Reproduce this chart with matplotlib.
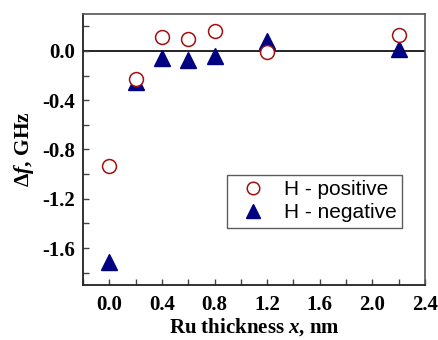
import matplotlib
matplotlib.use("Agg")
import matplotlib.pyplot as plt
from matplotlib.ticker import MultipleLocator

plt.rcParams['axes.unicode_minus'] = False
plt.rcParams['mathtext.fontset'] = 'custom'
plt.rcParams['mathtext.rm'] = 'Liberation Serif:bold'
plt.rcParams['mathtext.it'] = 'Liberation Serif:italic:bold'
plt.rcParams['mathtext.bf'] = 'Liberation Serif:bold'

thickness = [0.0, 0.2, 0.4, 0.6, 0.8, 1.2, 2.2]                  # Ru thickness, nm
df_pos = [-0.93, -0.23, 0.115, 0.10, 0.16, -0.01, 0.127]         # H - positive, GHz
df_neg = [-1.715, -0.25, -0.055, -0.07, -0.04, 0.08, 0.014]      # H - negative, GHz

fig = plt.figure(figsize=(4.38, 3.40), dpi=100)
ax = fig.add_axes([83/438, 1 - 285/340, (425-83)/438, (285-14)/340])

ax.axhline(0, color='black', lw=1.2, zorder=1)
ax.plot(thickness, df_pos, 'o', ms=10, mfc='white', mec='#a01010', mew=1.1,
        label='H - positive', zorder=3)
ax.plot(thickness, df_neg, '^', ms=11.5, color='#000080', mec='#000080',
        label='H - negative', zorder=2)

ax.set_xlim(-0.2, 2.4)
ax.set_ylim(-1.9, 0.3)
ax.xaxis.set_major_locator(MultipleLocator(0.4))
ax.xaxis.set_minor_locator(MultipleLocator(0.2))
ax.yaxis.set_major_locator(MultipleLocator(0.4))
ax.yaxis.set_minor_locator(MultipleLocator(0.2))
ax.tick_params(which='both', direction='in', top=False, right=False,
               length=4, width=1, color='#444444')
for lab in ax.get_xticklabels() + ax.get_yticklabels():
    lab.set_fontfamily('Liberation Serif')
    lab.set_fontweight('bold')
    lab.set_fontsize(15)
ax.tick_params(axis='x', pad=7)
ax.tick_params(axis='y', pad=6)

for side in ['left', 'bottom']:
    ax.spines[side].set_color('#222222')
    ax.spines[side].set_linewidth(1.3)
for side in ['top', 'right']:
    ax.spines[side].set_color('#555555')
    ax.spines[side].set_linewidth(1.2)

ax.set_xlabel(r'Ru thickness $x$, nm', fontfamily='Liberation Serif',
              fontweight='bold', fontsize=15, labelpad=1)
ax.set_ylabel(r'$\Delta f$, GHz', fontfamily='Liberation Serif',
              fontweight='bold', fontsize=15.5, labelpad=4)

leg = ax.legend(loc='upper left', bbox_to_anchor=(0.42, 0.406),
                prop={'family': 'Liberation Sans', 'size': 15},
                frameon=True, fancybox=False, edgecolor='#333333',
                handletextpad=0.5, borderpad=0.25, labelspacing=0.2,
                borderaxespad=0, markerscale=0.9)
leg.get_frame().set_linewidth(1.0)

fig.savefig('out.png', dpi=100)
